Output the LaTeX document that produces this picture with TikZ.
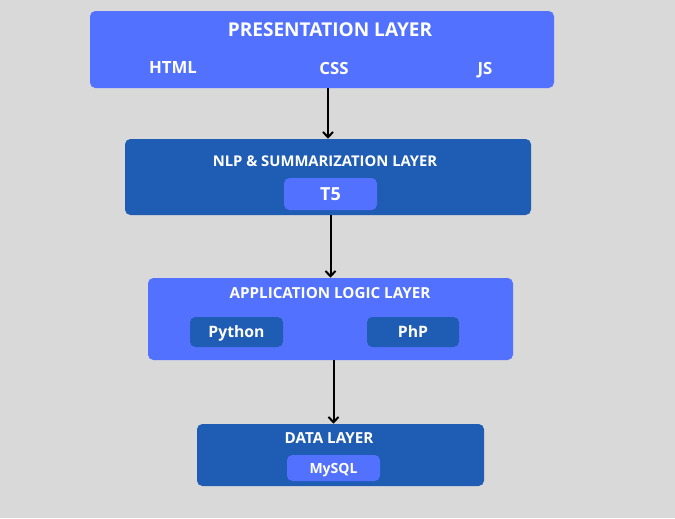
\documentclass[tikz,border=0pt]{standalone}
\usepackage{fontspec}
\setmainfont{Open Sans}
\usetikzlibrary{arrows.meta}
\definecolor{bggray}{HTML}{D9D9D9}
\definecolor{lightblue}{HTML}{5271FF}
\definecolor{darkblue}{HTML}{1F5CB3}

\tikzset{
    layer/.style={rounded corners=4pt, inner sep=0pt},
    tool/.style={rounded corners=4pt, inner sep=0pt, text=white, text depth=0pt, font=\bfseries\fontsize{11.8}{13}\selectfont},
    title/.style={text=white, inner sep=0pt, text depth=0pt},
    flow/.style={line width=1.5pt, -{Straight Barb[length=4pt,width=7.5pt]}}
}

\begin{document}
\begin{tikzpicture}[x=0.75pt,y=-0.75pt]
    \fill[bggray] (0,0) rectangle (675,518);
    \useasboundingbox (0,0) rectangle (675,518);
    % presentation layer
    \node[layer, fill=lightblue, minimum width=348pt, minimum height=57.75pt] (pres) at (322,49.5) {};
    \node[title, font=\bfseries\fontsize{14.3}{16}\selectfont] (prestitle) at (330,30) {PRESENTATION LAYER};
    \node[title, font=\bfseries\fontsize{12.6}{14}\selectfont] (html) at (173,68) {HTML};
    \node[title, font=\bfseries\fontsize{12.6}{14}\selectfont] (css) at (334,68) {CSS};
    \node[title, font=\bfseries\fontsize{12.6}{14}\selectfont] (js) at (485,68) {JS};
    % nlp layer
    \node[layer, fill=darkblue, minimum width=304.5pt, minimum height=57pt] (nlp) at (328,177) {};
    \node[title, font=\bfseries\fontsize{11.1}{13}\selectfont] (nlptitle) at (325,161) {NLP \& SUMMARIZATION LAYER};
    \node[tool, fill=lightblue, minimum width=69.75pt, minimum height=24pt, font=\bfseries\fontsize{13.5}{15}\selectfont] (t5) at (330.5,194) {T5};
    % application logic layer
    \node[layer, fill=lightblue, minimum width=273.75pt, minimum height=61.5pt] (app) at (330.5,319) {};
    \node[title, font=\bfseries\fontsize{11.4}{13}\selectfont] (apptitle) at (330,293) {APPLICATION LOGIC LAYER};
    \node[tool, fill=darkblue, minimum width=69.75pt, minimum height=22.5pt] (python) at (236.5,332) {Python};
    \node[tool, fill=darkblue, minimum width=69pt, minimum height=22.5pt] (php) at (413,332) {PhP};
    % data layer
    \node[layer, fill=darkblue, minimum width=215.25pt, minimum height=46.5pt] (data) at (340.5,455) {};
    \node[title, font=\bfseries\fontsize{11.4}{13}\selectfont] (datatitle) at (329,438) {DATA LAYER};
    \node[tool, fill=lightblue, minimum width=69.75pt, minimum height=19.5pt, font=\bfseries\fontsize{10.5}{12}\selectfont] (mysql) at (333.5,468) {MySQL};
    % arrows
    \draw[flow] (pres.south -| nlp.north) -- (nlp.north);
    \draw[flow] (nlp.south -| t5.south) -- (app.north -| t5.south);
    \draw[flow] (app.south -| mysql.north) -- (data.north -| mysql.north);
\end{tikzpicture}
\end{document}
